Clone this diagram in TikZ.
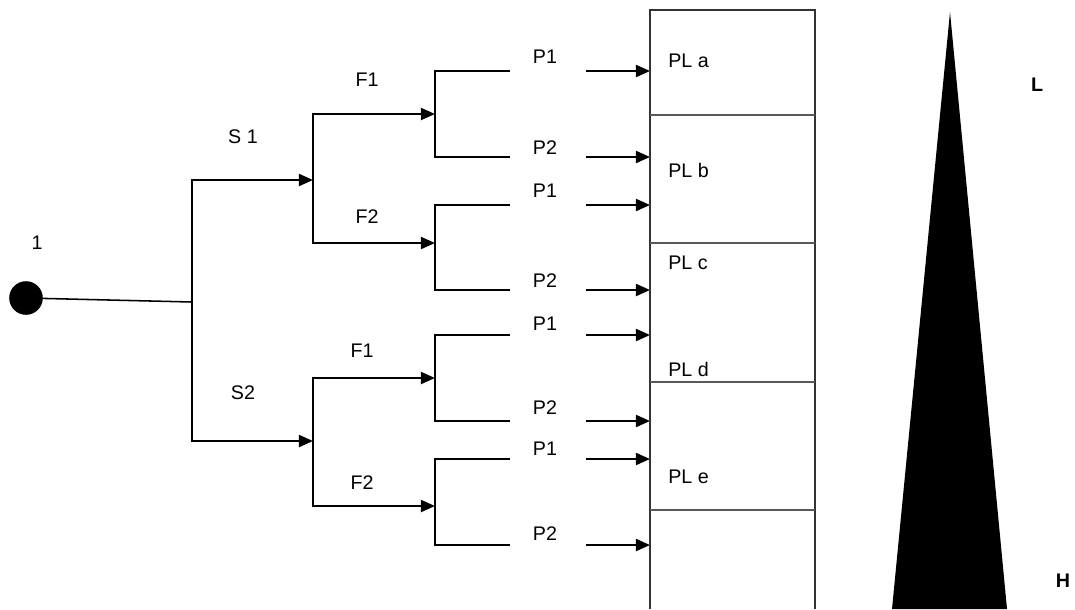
\documentclass[tikz,border=0pt]{standalone}
\usepackage{fontspec}
\setmainfont{Liberation Sans}
\usetikzlibrary{arrows.meta}
\tikzset{
  branch/.style={line width=1.5pt},
  feed/.style={line width=1.5pt,-{Triangle[length=10pt,width=8.5pt]}},
  lbl/.style={font=\fontsize{14}{16}\selectfont,inner sep=0pt},
  dot/.style={circle,fill=black,minimum size=8.4mm,inner sep=0pt},
}
\begin{document}
\begin{tikzpicture}[x=0.25mm,y=-0.25mm]
\useasboundingbox (0,0) rectangle (1075,609);
% root and first split
\node[dot] (root) at (26,298) {};
\node[lbl] (one) at (37,243) {1};
\coordinate (j0) at (192,302);
\draw[line width=1.1pt] (root) -- (j0);
\coordinate (s1) at (313,180);
\coordinate (s2) at (313,441);
\draw[feed] (j0) |- (s1);
\draw[feed] (j0) |- (s2);
\node[lbl] (lbls1) at (243,137) {S 1};
\node[lbl] (lbls2) at (243,393) {S2};
% second split
\coordinate (f11) at (435,114);
\coordinate (f12) at (435,243);
\coordinate (f21) at (435,378);
\coordinate (f22) at (435,506);
\draw[feed] (s1) |- (f11);
\draw[feed] (s1) |- (f12);
\draw[feed] (s2) |- (f21);
\draw[feed] (s2) |- (f22);
\node[lbl] (lblf11) at (367,80) {F1};
\node[lbl] (lblf12) at (367,217) {F2};
\node[lbl] (lblf21) at (362,351) {F1};
\node[lbl] (lblf22) at (362,483) {F2};
% third split, arrows into the column
\foreach \f/\ya/\yb/\la/\lb [count=\k] in {f11/71/157/57/148, f12/205/290/191/281,
    f21/335/421/324/408, f22/459/545/449/534} {
  \coordinate (ea\k) at (510,\ya);
  \coordinate (eb\k) at (510,\yb);
  \draw[branch] (ea\k) -| (\f) |- (eb\k);
  \node[lbl] (pa\k) at (545,\la) {P1};
  \node[lbl] (pb\k) at (545,\lb) {P2};
  \coordinate (qa\k) at (586,\ya);
  \coordinate (qb\k) at (586,\yb);
  \coordinate (ra\k) at (650,\ya);
  \coordinate (rb\k) at (650,\yb);
  \draw[feed] (qa\k) -- (ra\k);
  \draw[feed] (qb\k) -- (rb\k);
}
% column of levels
\draw[line width=1.4pt,black!80] (650,609) -- (650,10) -- (815,10) -- (815,609);
\foreach \y in {115,243,382,510}
  \draw[line width=1.4pt,black!65] (650,\y) -- (815,\y);
\foreach \t/\y in {a/61,b/170,c/263,d/369,e/477}
  \node[lbl,anchor=west] (pl\t) at (668,\y) {PL \t};
% wedge
\fill[black] (950,12) -- (1007,609) -- (892,609) -- cycle;
\node[lbl,font=\fontsize{14}{16}\selectfont\bfseries] (low) at (1037,85) {L};
\node[lbl,font=\fontsize{14}{16}\selectfont\bfseries] (high) at (1063,581) {H};
\end{tikzpicture}
\end{document}
